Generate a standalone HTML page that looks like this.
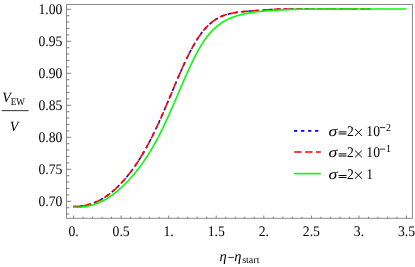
<!DOCTYPE html>
<html><head><meta charset="utf-8"><style>
html,body{margin:0;padding:0;background:#fff;}
svg{display:block;will-change:transform;}
text{text-rendering:geometricPrecision;font-family:"Liberation Serif",serif;font-size:13.7px;fill:#000;}
.i{font-style:italic;}
.s{font-size:9.1px;}
.p{font-size:9.8px;}
.v{font-style:italic;font-size:14.1px;}
</style></head><body>
<svg width="415" height="267" viewBox="0 0 415 267">
<rect width="415" height="267" fill="#fff"/>
<path d="M73.30,206.48 L73.90,206.48 L74.49,206.48 L75.09,206.48 L75.68,206.48 L76.28,206.46 L76.87,206.44 L77.47,206.41 L78.06,206.37 L78.66,206.33 L79.26,206.28 L79.85,206.22 L80.45,206.16 L81.04,206.09 L81.64,206.01 L82.23,205.93 L82.83,205.84 L83.43,205.74 L84.02,205.63 L84.62,205.52 L85.21,205.40 L85.81,205.27 L86.40,205.14 L87.00,205.00 L87.59,204.85 L88.19,204.69 L88.79,204.53 L89.38,204.36 L89.98,204.18 L90.57,204.00 L91.17,203.81 L91.76,203.61 L92.36,203.40 L92.95,203.19 L93.55,202.97 L94.15,202.73 L94.74,202.50 L95.34,202.25 L95.93,201.99 L96.53,201.73 L97.12,201.46 L97.72,201.18 L98.31,200.90 L98.91,200.60 L99.51,200.30 L100.10,199.99 L100.70,199.67 L101.29,199.35 L101.89,199.01 L102.48,198.67 L103.08,198.32 L103.68,197.96 L104.27,197.59 L104.87,197.21 L105.46,196.82 L106.06,196.42 L106.65,196.02 L107.25,195.60 L107.84,195.17 L108.44,194.73 L109.04,194.29 L109.63,193.83 L110.23,193.37 L110.82,192.90 L111.42,192.42 L112.01,191.93 L112.61,191.43 L113.20,190.92 L113.80,190.41 L114.40,189.88 L114.99,189.35 L115.59,188.81 L116.18,188.25 L116.78,187.69 L117.37,187.13 L117.97,186.55 L118.56,185.96 L119.16,185.37 L119.76,184.76 L120.35,184.15 L120.95,183.52 L121.54,182.89 L122.14,182.25 L122.73,181.60 L123.33,180.94 L123.93,180.27 L124.52,179.59 L125.12,178.90 L125.71,178.20 L126.31,177.49 L126.90,176.77 L127.50,176.05 L128.09,175.31 L128.69,174.56 L129.29,173.81 L129.88,173.04 L130.48,172.26 L131.07,171.47 L131.67,170.68 L132.26,169.87 L132.86,169.05 L133.45,168.22 L134.05,167.39 L134.65,166.54 L135.24,165.68 L135.84,164.81 L136.43,163.93 L137.03,163.04 L137.62,162.14 L138.22,161.22 L138.82,160.30 L139.41,159.37 L140.01,158.42 L140.60,157.46 L141.20,156.49 L141.79,155.52 L142.39,154.52 L142.98,153.52 L143.58,152.51 L144.18,151.48 L144.77,150.45 L145.37,149.40 L145.96,148.34 L146.56,147.26 L147.15,146.18 L147.75,145.08 L148.34,143.97 L148.94,142.85 L149.54,141.72 L150.13,140.58 L150.73,139.42 L151.32,138.25 L151.92,137.08 L152.51,135.89 L153.11,134.68 L153.70,133.47 L154.30,132.25 L154.90,131.01 L155.49,129.77 L156.09,128.51 L156.68,127.25 L157.28,125.97 L157.87,124.68 L158.47,123.39 L159.07,122.08 L159.66,120.77 L160.26,119.44 L160.85,118.11 L161.45,116.77 L162.04,115.42 L162.64,114.07 L163.23,112.71 L163.83,111.34 L164.43,109.96 L165.02,108.58 L165.62,107.19 L166.21,105.80 L166.81,104.40 L167.40,102.99 L168.00,101.59 L168.59,100.18 L169.19,98.76 L169.79,97.35 L170.38,95.93 L170.98,94.51 L171.57,93.09 L172.17,91.67 L172.76,90.25 L173.36,88.83 L173.95,87.41 L174.55,85.99 L175.15,84.58 L175.74,83.17 L176.34,81.76 L176.93,80.36 L177.53,78.96 L178.12,77.57 L178.72,76.19 L179.32,74.81 L179.91,73.44 L180.51,72.08 L181.10,70.73 L181.70,69.38 L182.29,68.05 L182.89,66.73 L183.48,65.42 L184.08,64.12 L184.68,62.84 L185.27,61.56 L185.87,60.30 L186.46,59.06 L187.06,57.83 L187.65,56.61 L188.25,55.41 L188.84,54.22 L189.44,53.05 L190.04,51.89 L190.63,50.75 L191.23,49.63 L191.82,48.52 L192.42,47.44 L193.01,46.36 L193.61,45.31 L194.21,44.28 L194.80,43.26 L195.40,42.26 L195.99,41.28 L196.59,40.32 L197.18,39.38 L197.78,38.46 L198.37,37.55 L198.97,36.67 L199.57,35.81 L200.16,34.97 L200.76,34.14 L201.35,33.34 L201.95,32.55 L202.54,31.79 L203.14,31.04 L203.73,30.32 L204.33,29.61 L204.93,28.92 L205.52,28.25 L206.12,27.60 L206.71,26.96 L207.31,26.35 L207.90,25.75 L208.50,25.17 L209.09,24.60 L209.69,24.06 L210.29,23.53 L210.88,23.01 L211.48,22.52 L212.07,22.04 L212.67,21.57 L213.26,21.12 L213.86,20.68 L214.46,20.26 L215.05,19.86 L215.65,19.47 L216.24,19.09 L216.84,18.73 L217.43,18.38 L218.03,18.05 L218.62,17.73 L219.22,17.42 L219.82,17.13 L220.41,16.85 L221.01,16.58 L221.60,16.32 L222.20,16.08 L222.79,15.84 L223.39,15.62 L223.98,15.40 L224.58,15.20 L225.18,15.00 L225.77,14.81 L226.37,14.63 L226.96,14.45 L227.56,14.29 L228.15,14.13 L228.75,13.97 L229.34,13.82 L229.94,13.68 L230.54,13.54 L231.13,13.41 L231.73,13.28 L232.32,13.16 L232.92,13.04 L233.51,12.93 L234.11,12.82 L234.71,12.72 L235.30,12.62 L235.90,12.53 L236.49,12.43 L237.09,12.35 L237.68,12.26 L238.28,12.18 L238.87,12.10 L239.47,12.03 L240.07,11.95 L240.66,11.88 L241.26,11.81 L241.85,11.75 L242.45,11.68 L243.04,11.62 L243.64,11.56 L244.23,11.50 L244.83,11.45 L245.43,11.39 L246.02,11.34 L246.62,11.29 L247.21,11.24 L247.81,11.19 L248.40,11.14 L249.00,11.09 L249.59,11.05 L250.19,11.00 L250.79,10.96 L251.38,10.92 L251.98,10.88 L252.57,10.84 L253.17,10.80 L253.76,10.76 L254.36,10.72 L254.96,10.68 L255.55,10.65 L256.15,10.61 L256.74,10.58 L257.34,10.54 L257.93,10.51 L258.53,10.48 L259.12,10.45 L259.72,10.41 L260.32,10.38 L260.91,10.35 L261.51,10.31 L262.10,10.27 L262.70,10.23 L263.29,10.19 L263.89,10.14 L264.48,10.10 L265.08,10.05 L265.68,10.00 L266.27,9.95 L266.87,9.90 L267.46,9.85 L268.06,9.80 L268.65,9.75 L269.25,9.70 L269.85,9.65 L270.44,9.61 L271.04,9.56 L271.63,9.52 L272.23,9.47 L272.82,9.43 L273.42,9.39 L274.01,9.36 L274.61,9.32 L275.21,9.29 L275.80,9.26 L276.40,9.23 L276.99,9.20 L277.59,9.17 L278.18,9.14 L278.78,9.11 L279.37,9.09 L279.97,9.06 L280.57,9.03 L281.16,9.01 L281.76,9.00 L282.35,9.00 L282.95,9.00 L283.54,9.00 L284.14,9.00 L284.73,9.00 L285.33,9.00 L285.93,9.00 L286.52,9.00 L287.12,9.00 L287.71,9.00 L288.31,9.00 L288.90,9.00 L289.50,9.00 L290.10,9.00 L290.69,9.00 L291.29,9.00 L291.88,9.00 L292.48,9.00 L293.07,9.00 L293.67,9.00 L294.26,9.00 L294.86,9.00 L295.46,9.00 L296.05,9.00 L296.65,9.00 L297.24,9.00 L297.84,9.00 L298.43,9.00 L299.03,9.00 L299.62,9.00 L300.22,9.00 L300.82,9.00 L301.41,9.00 L302.01,9.00 L302.60,9.00 L303.20,9.00 L303.79,9.00 L304.39,9.00 L304.98,9.00 L305.58,9.00 L306.18,9.00 L306.77,9.00 L307.37,9.00 L307.96,9.00 L308.56,9.00 L309.15,9.00 L309.75,9.00 L310.35,9.00 L310.94,9.00 L311.54,9.00 L312.13,9.00 L312.73,9.00 L313.32,9.00 L313.92,9.00 L314.51,9.00 L315.11,9.00 L315.71,9.00 L316.30,9.00 L316.90,9.00 L317.49,9.00 L318.09,9.00 L318.68,9.00 L319.28,9.00 L319.87,9.00 L320.47,9.00 L321.07,9.00 L321.66,9.00 L322.26,9.00 L322.85,9.00 L323.45,9.00 L324.04,9.00 L324.64,9.00 L325.24,9.00 L325.83,9.00 L326.43,9.00 L327.02,9.00 L327.62,9.00 L328.21,9.00 L328.81,9.00 L329.40,9.00 L330.00,9.00 L330.60,9.00 L331.19,9.00 L331.79,9.00 L332.38,9.00 L332.98,9.00 L333.57,9.00 L334.17,9.00 L334.76,9.00 L335.36,9.00 L335.96,9.00 L336.55,9.00 L337.15,9.00 L337.74,9.00 L338.34,9.00 L338.93,9.00 L339.53,9.00 L340.12,9.00 L340.72,9.00 L341.32,9.00 L341.91,9.00 L342.51,9.00 L343.10,9.00 L343.70,9.00 L344.29,9.00 L344.89,9.00 L345.49,9.00 L346.08,9.00 L346.68,9.00 L347.27,9.00 L347.87,9.00 L348.46,9.00 L349.06,9.00 L349.65,9.00 L350.25,9.00 L350.85,9.00 L351.44,9.00 L352.04,9.00 L352.63,9.00 L353.23,9.00 L353.82,9.00 L354.42,9.00 L355.01,9.00 L355.61,9.00 L356.21,9.00 L356.80,9.00 L357.40,9.00 L357.99,9.00 L358.59,9.00 L359.18,9.00 L359.78,9.00 L360.37,9.00 L360.97,9.00 L361.57,9.00 L362.16,9.00 L362.76,9.00 L363.35,9.00 L363.95,9.00 L364.54,9.00 L365.14,9.00 L365.74,9.00 L366.33,9.00 L366.93,9.00 L367.52,9.00 L368.12,9.00 L368.71,9.00 L369.31,9.00 L369.90,9.00 L370.50,9.00" fill="none" stroke="#0000ff" stroke-width="1.6" stroke-dasharray="3.3 3.7"/>
<path d="M73.30,206.48 L73.90,206.48 L74.49,206.48 L75.09,206.48 L75.68,206.48 L76.28,206.46 L76.87,206.44 L77.47,206.41 L78.06,206.37 L78.66,206.33 L79.26,206.28 L79.85,206.22 L80.45,206.16 L81.04,206.09 L81.64,206.01 L82.23,205.93 L82.83,205.84 L83.43,205.74 L84.02,205.63 L84.62,205.52 L85.21,205.40 L85.81,205.27 L86.40,205.14 L87.00,205.00 L87.59,204.85 L88.19,204.69 L88.79,204.53 L89.38,204.36 L89.98,204.18 L90.57,204.00 L91.17,203.81 L91.76,203.61 L92.36,203.40 L92.95,203.19 L93.55,202.97 L94.15,202.73 L94.74,202.50 L95.34,202.25 L95.93,201.99 L96.53,201.73 L97.12,201.46 L97.72,201.18 L98.31,200.90 L98.91,200.60 L99.51,200.30 L100.10,199.99 L100.70,199.67 L101.29,199.35 L101.89,199.01 L102.48,198.67 L103.08,198.32 L103.68,197.96 L104.27,197.59 L104.87,197.21 L105.46,196.82 L106.06,196.42 L106.65,196.02 L107.25,195.60 L107.84,195.17 L108.44,194.73 L109.04,194.29 L109.63,193.83 L110.23,193.37 L110.82,192.90 L111.42,192.42 L112.01,191.93 L112.61,191.43 L113.20,190.92 L113.80,190.41 L114.40,189.88 L114.99,189.35 L115.59,188.81 L116.18,188.25 L116.78,187.69 L117.37,187.13 L117.97,186.55 L118.56,185.96 L119.16,185.37 L119.76,184.76 L120.35,184.15 L120.95,183.52 L121.54,182.89 L122.14,182.25 L122.73,181.60 L123.33,180.94 L123.93,180.27 L124.52,179.59 L125.12,178.90 L125.71,178.20 L126.31,177.49 L126.90,176.77 L127.50,176.05 L128.09,175.31 L128.69,174.56 L129.29,173.81 L129.88,173.04 L130.48,172.26 L131.07,171.47 L131.67,170.68 L132.26,169.87 L132.86,169.05 L133.45,168.22 L134.05,167.39 L134.65,166.54 L135.24,165.68 L135.84,164.81 L136.43,163.93 L137.03,163.04 L137.62,162.14 L138.22,161.22 L138.82,160.30 L139.41,159.37 L140.01,158.42 L140.60,157.46 L141.20,156.49 L141.79,155.52 L142.39,154.52 L142.98,153.52 L143.58,152.51 L144.18,151.48 L144.77,150.45 L145.37,149.40 L145.96,148.34 L146.56,147.26 L147.15,146.18 L147.75,145.08 L148.34,143.97 L148.94,142.85 L149.54,141.72 L150.13,140.58 L150.73,139.42 L151.32,138.25 L151.92,137.08 L152.51,135.89 L153.11,134.68 L153.70,133.47 L154.30,132.25 L154.90,131.01 L155.49,129.77 L156.09,128.51 L156.68,127.25 L157.28,125.97 L157.87,124.68 L158.47,123.39 L159.07,122.08 L159.66,120.77 L160.26,119.44 L160.85,118.11 L161.45,116.77 L162.04,115.42 L162.64,114.07 L163.23,112.71 L163.83,111.34 L164.43,109.96 L165.02,108.58 L165.62,107.19 L166.21,105.80 L166.81,104.40 L167.40,102.99 L168.00,101.59 L168.59,100.18 L169.19,98.76 L169.79,97.35 L170.38,95.93 L170.98,94.51 L171.57,93.09 L172.17,91.67 L172.76,90.25 L173.36,88.83 L173.95,87.41 L174.55,85.99 L175.15,84.58 L175.74,83.17 L176.34,81.76 L176.93,80.36 L177.53,78.96 L178.12,77.57 L178.72,76.19 L179.32,74.81 L179.91,73.44 L180.51,72.08 L181.10,70.73 L181.70,69.38 L182.29,68.05 L182.89,66.73 L183.48,65.42 L184.08,64.12 L184.68,62.84 L185.27,61.56 L185.87,60.30 L186.46,59.06 L187.06,57.83 L187.65,56.61 L188.25,55.41 L188.84,54.22 L189.44,53.05 L190.04,51.89 L190.63,50.75 L191.23,49.63 L191.82,48.52 L192.42,47.44 L193.01,46.36 L193.61,45.31 L194.21,44.28 L194.80,43.26 L195.40,42.26 L195.99,41.28 L196.59,40.32 L197.18,39.38 L197.78,38.46 L198.37,37.55 L198.97,36.67 L199.57,35.81 L200.16,34.97 L200.76,34.14 L201.35,33.34 L201.95,32.55 L202.54,31.79 L203.14,31.04 L203.73,30.32 L204.33,29.61 L204.93,28.92 L205.52,28.25 L206.12,27.60 L206.71,26.96 L207.31,26.35 L207.90,25.75 L208.50,25.17 L209.09,24.60 L209.69,24.06 L210.29,23.53 L210.88,23.01 L211.48,22.52 L212.07,22.04 L212.67,21.57 L213.26,21.12 L213.86,20.68 L214.46,20.26 L215.05,19.86 L215.65,19.47 L216.24,19.09 L216.84,18.73 L217.43,18.38 L218.03,18.05 L218.62,17.73 L219.22,17.42 L219.82,17.13 L220.41,16.85 L221.01,16.58 L221.60,16.32 L222.20,16.08 L222.79,15.84 L223.39,15.62 L223.98,15.40 L224.58,15.20 L225.18,15.00 L225.77,14.81 L226.37,14.63 L226.96,14.45 L227.56,14.29 L228.15,14.13 L228.75,13.97 L229.34,13.82 L229.94,13.68 L230.54,13.54 L231.13,13.41 L231.73,13.28 L232.32,13.16 L232.92,13.04 L233.51,12.93 L234.11,12.82 L234.71,12.72 L235.30,12.62 L235.90,12.53 L236.49,12.43 L237.09,12.35 L237.68,12.26 L238.28,12.18 L238.87,12.10 L239.47,12.03 L240.07,11.95 L240.66,11.88 L241.26,11.81 L241.85,11.75 L242.45,11.68 L243.04,11.62 L243.64,11.56 L244.23,11.50 L244.83,11.45 L245.43,11.39 L246.02,11.34 L246.62,11.29 L247.21,11.24 L247.81,11.19 L248.40,11.14 L249.00,11.09 L249.59,11.05 L250.19,11.00 L250.79,10.96 L251.38,10.92 L251.98,10.88 L252.57,10.84 L253.17,10.80 L253.76,10.76 L254.36,10.72 L254.96,10.68 L255.55,10.65 L256.15,10.61 L256.74,10.58 L257.34,10.54 L257.93,10.51 L258.53,10.48 L259.12,10.45 L259.72,10.41 L260.32,10.38 L260.91,10.35 L261.51,10.31 L262.10,10.27 L262.70,10.23 L263.29,10.19 L263.89,10.14 L264.48,10.10 L265.08,10.05 L265.68,10.00 L266.27,9.95 L266.87,9.90 L267.46,9.85 L268.06,9.80 L268.65,9.75 L269.25,9.70 L269.85,9.65 L270.44,9.61 L271.04,9.56 L271.63,9.52 L272.23,9.47 L272.82,9.43 L273.42,9.39 L274.01,9.36 L274.61,9.32 L275.21,9.29 L275.80,9.26 L276.40,9.23 L276.99,9.20 L277.59,9.17 L278.18,9.14 L278.78,9.11 L279.37,9.09 L279.97,9.06 L280.57,9.03 L281.16,9.01 L281.76,9.00 L282.35,9.00 L282.95,9.00 L283.54,9.00 L284.14,9.00 L284.73,9.00 L285.33,9.00 L285.93,9.00 L286.52,9.00 L287.12,9.00 L287.71,9.00 L288.31,9.00 L288.90,9.00 L289.50,9.00 L290.10,9.00 L290.69,9.00 L291.29,9.00 L291.88,9.00 L292.48,9.00 L293.07,9.00 L293.67,9.00 L294.26,9.00 L294.86,9.00 L295.46,9.00 L296.05,9.00 L296.65,9.00 L297.24,9.00 L297.84,9.00 L298.43,9.00 L299.03,9.00 L299.62,9.00 L300.22,9.00 L300.82,9.00 L301.41,9.00 L302.01,9.00 L302.60,9.00 L303.20,9.00 L303.79,9.00 L304.39,9.00 L304.98,9.00 L305.58,9.00 L306.18,9.00 L306.77,9.00 L307.37,9.00 L307.96,9.00 L308.56,9.00 L309.15,9.00 L309.75,9.00 L310.35,9.00 L310.94,9.00 L311.54,9.00 L312.13,9.00 L312.73,9.00 L313.32,9.00 L313.92,9.00 L314.51,9.00 L315.11,9.00 L315.71,9.00 L316.30,9.00 L316.90,9.00 L317.49,9.00 L318.09,9.00 L318.68,9.00 L319.28,9.00 L319.87,9.00 L320.47,9.00 L321.07,9.00 L321.66,9.00 L322.26,9.00 L322.85,9.00 L323.45,9.00 L324.04,9.00 L324.64,9.00 L325.24,9.00 L325.83,9.00 L326.43,9.00 L327.02,9.00 L327.62,9.00 L328.21,9.00 L328.81,9.00 L329.40,9.00 L330.00,9.00 L330.60,9.00 L331.19,9.00 L331.79,9.00 L332.38,9.00 L332.98,9.00 L333.57,9.00 L334.17,9.00 L334.76,9.00 L335.36,9.00 L335.96,9.00 L336.55,9.00 L337.15,9.00 L337.74,9.00 L338.34,9.00 L338.93,9.00 L339.53,9.00 L340.12,9.00 L340.72,9.00 L341.32,9.00 L341.91,9.00 L342.51,9.00 L343.10,9.00 L343.70,9.00 L344.29,9.00 L344.89,9.00 L345.49,9.00 L346.08,9.00 L346.68,9.00 L347.27,9.00 L347.87,9.00 L348.46,9.00 L349.06,9.00 L349.65,9.00 L350.25,9.00 L350.85,9.00 L351.44,9.00 L352.04,9.00 L352.63,9.00 L353.23,9.00 L353.82,9.00 L354.42,9.00 L355.01,9.00 L355.61,9.00 L356.21,9.00 L356.80,9.00 L357.40,9.00 L357.99,9.00 L358.59,9.00 L359.18,9.00 L359.78,9.00 L360.37,9.00 L360.97,9.00 L361.57,9.00 L362.16,9.00 L362.76,9.00 L363.35,9.00 L363.95,9.00 L364.54,9.00 L365.14,9.00 L365.74,9.00 L366.33,9.00 L366.93,9.00 L367.52,9.00 L368.12,9.00 L368.71,9.00 L369.31,9.00 L369.90,9.00 L370.50,9.00" fill="none" stroke="#ff0000" stroke-width="1.6" stroke-dasharray="7.4 3.5"/>
<path d="M73.30,207.31 L73.97,207.31 L74.64,207.31 L75.30,207.31 L75.97,207.31 L76.64,207.31 L77.31,207.31 L77.98,207.31 L78.64,207.30 L79.31,207.27 L79.98,207.23 L80.65,207.18 L81.32,207.13 L81.98,207.06 L82.65,206.99 L83.32,206.91 L83.99,206.82 L84.65,206.73 L85.32,206.62 L85.99,206.51 L86.66,206.39 L87.33,206.26 L87.99,206.12 L88.66,205.97 L89.33,205.82 L90.00,205.65 L90.67,205.48 L91.33,205.30 L92.00,205.11 L92.67,204.91 L93.34,204.70 L94.01,204.49 L94.67,204.26 L95.34,204.03 L96.01,203.78 L96.68,203.53 L97.35,203.27 L98.01,203.00 L98.68,202.73 L99.35,202.45 L100.02,202.16 L100.69,201.86 L101.35,201.55 L102.02,201.24 L102.69,200.91 L103.36,200.58 L104.03,200.23 L104.69,199.87 L105.36,199.50 L106.03,199.12 L106.70,198.72 L107.36,198.32 L108.03,197.89 L108.70,197.46 L109.37,197.02 L110.04,196.57 L110.70,196.11 L111.37,195.64 L112.04,195.16 L112.71,194.67 L113.38,194.18 L114.04,193.67 L114.71,193.16 L115.38,192.63 L116.05,192.10 L116.72,191.56 L117.38,191.01 L118.05,190.45 L118.72,189.88 L119.39,189.30 L120.06,188.72 L120.72,188.12 L121.39,187.52 L122.06,186.90 L122.73,186.28 L123.40,185.65 L124.06,185.00 L124.73,184.35 L125.40,183.69 L126.07,183.02 L126.73,182.34 L127.40,181.65 L128.07,180.95 L128.74,180.24 L129.41,179.52 L130.07,178.79 L130.74,178.05 L131.41,177.31 L132.08,176.55 L132.75,175.78 L133.41,174.99 L134.08,174.20 L134.75,173.40 L135.42,172.59 L136.09,171.77 L136.75,170.93 L137.42,170.09 L138.09,169.23 L138.76,168.36 L139.43,167.48 L140.09,166.59 L140.76,165.68 L141.43,164.77 L142.10,163.84 L142.77,162.90 L143.43,161.95 L144.10,160.98 L144.77,160.01 L145.44,159.01 L146.11,158.01 L146.77,156.99 L147.44,155.96 L148.11,154.92 L148.78,153.86 L149.44,152.79 L150.11,151.70 L150.78,150.60 L151.45,149.48 L152.12,148.35 L152.78,147.21 L153.45,146.05 L154.12,144.87 L154.79,143.68 L155.46,142.48 L156.12,141.25 L156.79,140.02 L157.46,138.77 L158.13,137.50 L158.80,136.22 L159.46,134.93 L160.13,133.62 L160.80,132.29 L161.47,130.95 L162.14,129.60 L162.80,128.23 L163.47,126.85 L164.14,125.46 L164.81,124.05 L165.48,122.63 L166.14,121.20 L166.81,119.76 L167.48,118.30 L168.15,116.84 L168.81,115.36 L169.48,113.88 L170.15,112.38 L170.82,110.87 L171.49,109.36 L172.15,107.84 L172.82,106.31 L173.49,104.77 L174.16,103.23 L174.83,101.68 L175.49,100.13 L176.16,98.58 L176.83,97.02 L177.50,95.45 L178.17,93.89 L178.83,92.33 L179.50,90.76 L180.17,89.20 L180.84,87.63 L181.51,86.07 L182.17,84.52 L182.84,82.97 L183.51,81.42 L184.18,79.88 L184.85,78.34 L185.51,76.82 L186.18,75.30 L186.85,73.80 L187.52,72.31 L188.18,70.83 L188.85,69.36 L189.52,67.91 L190.19,66.47 L190.86,65.04 L191.52,63.64 L192.19,62.25 L192.86,60.88 L193.53,59.53 L194.20,58.19 L194.86,56.88 L195.53,55.59 L196.20,54.31 L196.87,53.06 L197.54,51.83 L198.20,50.62 L198.87,49.44 L199.54,48.28 L200.21,47.14 L200.88,46.02 L201.54,44.93 L202.21,43.86 L202.88,42.82 L203.55,41.80 L204.22,40.81 L204.88,39.84 L205.55,38.90 L206.22,37.98 L206.89,37.09 L207.56,36.22 L208.22,35.37 L208.89,34.55 L209.56,33.75 L210.23,32.98 L210.89,32.22 L211.56,31.49 L212.23,30.79 L212.90,30.10 L213.57,29.43 L214.23,28.79 L214.90,28.16 L215.57,27.55 L216.24,26.96 L216.91,26.39 L217.57,25.84 L218.24,25.31 L218.91,24.79 L219.58,24.29 L220.25,23.80 L220.91,23.33 L221.58,22.88 L222.25,22.44 L222.92,22.02 L223.59,21.61 L224.25,21.21 L224.92,20.83 L225.59,20.47 L226.26,20.11 L226.93,19.77 L227.59,19.44 L228.26,19.12 L228.93,18.81 L229.60,18.51 L230.26,18.22 L230.93,17.94 L231.60,17.67 L232.27,17.41 L232.94,17.15 L233.60,16.91 L234.27,16.67 L234.94,16.43 L235.61,16.21 L236.28,15.99 L236.94,15.78 L237.61,15.57 L238.28,15.38 L238.95,15.18 L239.62,15.00 L240.28,14.82 L240.95,14.65 L241.62,14.48 L242.29,14.32 L242.96,14.17 L243.62,14.02 L244.29,13.87 L244.96,13.73 L245.63,13.60 L246.30,13.46 L246.96,13.34 L247.63,13.21 L248.30,13.09 L248.97,12.97 L249.64,12.86 L250.30,12.75 L250.97,12.65 L251.64,12.54 L252.31,12.44 L252.97,12.35 L253.64,12.25 L254.31,12.16 L254.98,12.07 L255.65,11.98 L256.31,11.90 L256.98,11.82 L257.65,11.74 L258.32,11.66 L258.99,11.58 L259.65,11.51 L260.32,11.44 L260.99,11.37 L261.66,11.30 L262.33,11.24 L262.99,11.17 L263.66,11.11 L264.33,11.05 L265.00,10.99 L265.67,10.93 L266.33,10.88 L267.00,10.82 L267.67,10.77 L268.34,10.72 L269.01,10.67 L269.67,10.62 L270.34,10.57 L271.01,10.52 L271.68,10.47 L272.34,10.42 L273.01,10.38 L273.68,10.33 L274.35,10.29 L275.02,10.25 L275.68,10.21 L276.35,10.17 L277.02,10.13 L277.69,10.09 L278.36,10.06 L279.02,10.02 L279.69,9.99 L280.36,9.95 L281.03,9.92 L281.70,9.89 L282.36,9.86 L283.03,9.83 L283.70,9.80 L284.37,9.77 L285.04,9.75 L285.70,9.72 L286.37,9.70 L287.04,9.67 L287.71,9.65 L288.38,9.62 L289.04,9.60 L289.71,9.58 L290.38,9.55 L291.05,9.53 L291.72,9.51 L292.38,9.49 L293.05,9.46 L293.72,9.44 L294.39,9.42 L295.05,9.40 L295.72,9.38 L296.39,9.36 L297.06,9.35 L297.73,9.33 L298.39,9.31 L299.06,9.30 L299.73,9.28 L300.40,9.27 L301.07,9.26 L301.73,9.25 L302.40,9.23 L303.07,9.23 L303.74,9.22 L304.41,9.21 L305.07,9.20 L305.74,9.20 L306.41,9.19 L307.08,9.19 L307.75,9.18 L308.41,9.18 L309.08,9.17 L309.75,9.17 L310.42,9.17 L311.09,9.16 L311.75,9.16 L312.42,9.16 L313.09,9.15 L313.76,9.15 L314.42,9.15 L315.09,9.15 L315.76,9.14 L316.43,9.14 L317.10,9.14 L317.76,9.14 L318.43,9.14 L319.10,9.14 L319.77,9.13 L320.44,9.13 L321.10,9.13 L321.77,9.13 L322.44,9.13 L323.11,9.13 L323.78,9.13 L324.44,9.13 L325.11,9.13 L325.78,9.13 L326.45,9.13 L327.12,9.13 L327.78,9.13 L328.45,9.13 L329.12,9.13 L329.79,9.13 L330.46,9.13 L331.12,9.13 L331.79,9.13 L332.46,9.13 L333.13,9.13 L333.79,9.13 L334.46,9.13 L335.13,9.13 L335.80,9.13 L336.47,9.13 L337.13,9.13 L337.80,9.13 L338.47,9.13 L339.14,9.13 L339.81,9.13 L340.47,9.13 L341.14,9.13 L341.81,9.13 L342.48,9.12 L343.15,9.12 L343.81,9.12 L344.48,9.11 L345.15,9.11 L345.82,9.11 L346.49,9.10 L347.15,9.10 L347.82,9.10 L348.49,9.09 L349.16,9.09 L349.83,9.08 L350.49,9.08 L351.16,9.07 L351.83,9.07 L352.50,9.06 L353.17,9.06 L353.83,9.05 L354.50,9.04 L355.17,9.04 L355.84,9.03 L356.50,9.02 L357.17,9.02 L357.84,9.01 L358.51,9.00 L359.18,9.00 L359.84,9.00 L360.51,9.00 L361.18,9.00 L361.85,9.00 L362.52,9.00 L363.18,9.00 L363.85,9.00 L364.52,9.00 L365.19,9.00 L365.86,9.00 L366.52,9.00 L367.19,9.00 L367.86,9.00 L368.53,9.00 L369.20,9.00 L369.86,9.00 L370.53,9.00 L371.20,9.00 L371.87,9.00 L372.54,9.00 L373.20,9.00 L373.87,9.00 L374.54,9.00 L375.21,9.00 L375.87,9.00 L376.54,9.00 L377.21,9.00 L377.88,9.00 L378.55,9.00 L379.21,9.00 L379.88,9.00 L380.55,9.00 L381.22,9.00 L381.89,9.00 L382.55,9.00 L383.22,9.00 L383.89,9.00 L384.56,9.00 L385.23,9.00 L385.89,9.00 L386.56,9.00 L387.23,9.00 L387.90,9.00 L388.57,9.00 L389.23,9.00 L389.90,9.00 L390.57,9.00 L391.24,9.00 L391.91,9.00 L392.57,9.00 L393.24,9.00 L393.91,9.00 L394.58,9.00 L395.25,9.00 L395.91,9.00 L396.58,9.00 L397.25,9.00 L397.92,9.00 L398.58,9.00 L399.25,9.00 L399.92,9.00 L400.59,9.00 L401.26,9.00 L401.92,9.00 L402.59,9.00 L403.26,9.00 L403.93,9.00 L404.60,9.00 L405.26,9.00 L405.93,9.00 L406.60,9.00" fill="none" stroke="#00ff00" stroke-width="1.6" stroke-linejoin="round"/>
<rect x="66.5" y="4.45" width="345.95" height="213.85000000000002" fill="none" stroke="#8a8a8a" stroke-width="1"/>
<path d="M73.50,218.3 v-2.7 M83.02,218.3 v-1.6 M92.53,218.3 v-1.6 M102.05,218.3 v-1.6 M111.56,218.3 v-1.6 M121.08,218.3 v-2.7 M130.59,218.3 v-1.6 M140.11,218.3 v-1.6 M149.62,218.3 v-1.6 M159.13,218.3 v-1.6 M168.65,218.3 v-2.7 M178.17,218.3 v-1.6 M187.68,218.3 v-1.6 M197.19,218.3 v-1.6 M206.71,218.3 v-1.6 M216.23,218.3 v-2.7 M225.74,218.3 v-1.6 M235.25,218.3 v-1.6 M244.77,218.3 v-1.6 M254.28,218.3 v-1.6 M263.80,218.3 v-2.7 M273.32,218.3 v-1.6 M282.83,218.3 v-1.6 M292.35,218.3 v-1.6 M301.86,218.3 v-1.6 M311.38,218.3 v-2.7 M320.89,218.3 v-1.6 M330.41,218.3 v-1.6 M339.92,218.3 v-1.6 M349.44,218.3 v-1.6 M358.95,218.3 v-2.7 M368.47,218.3 v-1.6 M377.98,218.3 v-1.6 M387.50,218.3 v-1.6 M397.01,218.3 v-1.6 M406.53,218.3 v-2.7 M66.5,214.10 h2.9 M66.5,207.70 h2.9 M66.5,201.30 h4.6 M66.5,194.90 h2.9 M66.5,188.50 h2.9 M66.5,182.10 h2.9 M66.5,175.70 h2.9 M66.5,169.30 h4.6 M66.5,162.90 h2.9 M66.5,156.50 h2.9 M66.5,150.10 h2.9 M66.5,143.70 h2.9 M66.5,137.30 h4.6 M66.5,130.90 h2.9 M66.5,124.50 h2.9 M66.5,118.10 h2.9 M66.5,111.70 h2.9 M66.5,105.30 h4.6 M66.5,98.90 h2.9 M66.5,92.50 h2.9 M66.5,86.10 h2.9 M66.5,79.70 h2.9 M66.5,73.30 h4.6 M66.5,66.90 h2.9 M66.5,60.50 h2.9 M66.5,54.10 h2.9 M66.5,47.70 h2.9 M66.5,41.30 h4.6 M66.5,34.90 h2.9 M66.5,28.50 h2.9 M66.5,22.10 h2.9 M66.5,15.70 h2.9 M66.5,9.30 h4.6" fill="none" stroke="#707070" stroke-width="0.9"/>
<text transform="translate(73.50,235.50) scale(1,1.07)" text-anchor="middle">0.</text><text transform="translate(121.08,235.50) scale(1,1.07)" text-anchor="middle">0.5</text><text transform="translate(168.65,235.50) scale(1,1.07)" text-anchor="middle">1.</text><text transform="translate(216.23,235.50) scale(1,1.07)" text-anchor="middle">1.5</text><text transform="translate(263.80,235.50) scale(1,1.07)" text-anchor="middle">2.</text><text transform="translate(311.38,235.50) scale(1,1.07)" text-anchor="middle">2.5</text><text transform="translate(358.95,235.50) scale(1,1.07)" text-anchor="middle">3.</text><text transform="translate(406.53,235.50) scale(1,1.07)" text-anchor="middle">3.5</text>
<text transform="translate(62.40,14.05) scale(1,1.07)" text-anchor="end">1.00</text><text transform="translate(62.40,46.05) scale(1,1.07)" text-anchor="end">0.95</text><text transform="translate(62.40,78.05) scale(1,1.07)" text-anchor="end">0.90</text><text transform="translate(62.40,110.05) scale(1,1.07)" text-anchor="end">0.85</text><text transform="translate(62.40,142.05) scale(1,1.07)" text-anchor="end">0.80</text><text transform="translate(62.40,174.05) scale(1,1.07)" text-anchor="end">0.75</text><text transform="translate(62.40,206.05) scale(1,1.07)" text-anchor="end">0.70</text>
<text x="2.2" y="102.2" class="v">V</text>
<text transform="translate(10.70,104.55) scale(1,1.12)" class="s">EW</text>
<path d="M1.7,110.6 H28.65" stroke="#444" stroke-width="1.1"/>
<text x="9.8" y="130.6" class="v">V</text>
<text x="219.5" y="260.6" class="i" style="font-size:14.4px">η</text>
<path d="M228.3,257.45 h5.6" stroke="#000" stroke-width="0.8" fill="none"/>
<text x="234.3" y="260.6" class="i" style="font-size:14.4px">η</text>
<text x="242.2" y="262.9" class="p" style="font-size:10px">start</text>
<path d="M294,130.85 H320.9" stroke="#0000ff" stroke-width="1.6" stroke-dasharray="3.3 3.7"/>
<path d="M294.2,151.95 H320.9" stroke="#ff0000" stroke-width="1.6" stroke-dasharray="7.4 3.5"/>
<path d="M294.2,173.6 H320.9" stroke="#00ff00" stroke-width="1.6"/>
<text transform="translate(328.4,135.8) scale(1.22,1)" class="i" style="font-size:14.6px">σ</text><path d="M338.6,131.90 h7.9 M338.6,133.95 h7.9" stroke="#000" stroke-width="1" fill="none"/><text transform="translate(347.00,135.80) scale(1,1.07)">2</text><path d="M355,129.00 l6.9,6.8 M361.9,129.00 l-6.9,6.8" stroke="#000" stroke-width="0.95" fill="none"/><text transform="translate(366.30,135.80) scale(1,1.07)">10</text><path d="M379.7,127.60 h5.6" stroke="#000" stroke-width="0.8" fill="none"/><text transform="translate(385.90,130.70) scale(1,1.07)" class="p">2</text>
<text transform="translate(328.4,157.35) scale(1.22,1)" class="i" style="font-size:14.6px">σ</text><path d="M338.6,153.90 h7.9 M338.6,156.00 h7.9" stroke="#000" stroke-width="1" fill="none"/><text transform="translate(347.00,157.35) scale(1,1.07)">2</text><path d="M355,150.55 l6.9,6.8 M361.9,150.55 l-6.9,6.8" stroke="#000" stroke-width="0.95" fill="none"/><text transform="translate(366.30,157.35) scale(1,1.07)">10</text><path d="M379.7,149.15 h5.6" stroke="#000" stroke-width="0.8" fill="none"/><text transform="translate(385.90,152.25) scale(1,1.07)" class="p">1</text>
<text transform="translate(328.4,178.6) scale(1.22,1)" class="i" style="font-size:14.6px">σ</text><path d="M338.6,175.50 h7.9 M338.6,177.50 h7.9" stroke="#000" stroke-width="1" fill="none"/><text transform="translate(347.00,178.60) scale(1,1.07)">2</text><path d="M355,171.80 l6.9,6.8 M361.9,171.80 l-6.9,6.8" stroke="#000" stroke-width="0.95" fill="none"/><text transform="translate(366.30,178.60) scale(1,1.07)">1</text>
</svg>
</body></html>
